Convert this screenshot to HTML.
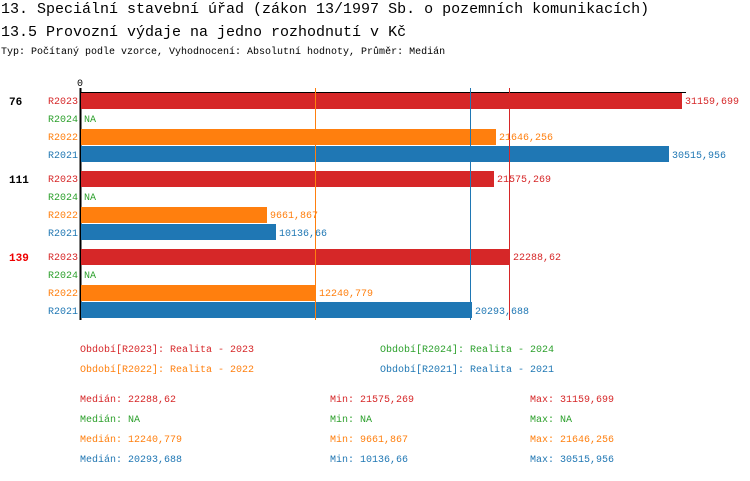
<!DOCTYPE html>
<html><head><meta charset="utf-8"><style>
body{margin:0;background:#fff}
svg text{font-family:"Liberation Mono","DejaVu Sans Mono",monospace}
</style></head><body>
<svg width="750" height="476" xmlns="http://www.w3.org/2000/svg">
<text x="1" y="13" font-size="15">13. Speciální stavební úřad (zákon 13/1997 Sb. o pozemních komunikacích)</text>
<text x="1" y="36" font-size="15">13.5 Provozní výdaje na jedno rozhodnutí v Kč</text>
<text x="1" y="54" font-size="10">Typ: Počítaný podle vzorce, Vyhodnocení: Absolutní hodnoty, Průměr: Medián</text>
<text x="77" y="86" font-size="10">0</text>
<line x1="80" y1="92.5" x2="686" y2="92.5" stroke="#000"/>
<line x1="80.5" y1="88" x2="80.5" y2="320" stroke="#000" stroke-width="2"/>
<g font-size="10">
<rect x="81" y="93" width="601" height="16" fill="#d62728"/>
<rect x="81" y="129" width="415" height="16" fill="#ff7f0e"/>
<rect x="81" y="146" width="588" height="16" fill="#1f77b4"/>
<rect x="81" y="171" width="413" height="16" fill="#d62728"/>
<rect x="81" y="207" width="186" height="16" fill="#ff7f0e"/>
<rect x="81" y="224" width="195" height="16" fill="#1f77b4"/>
<rect x="81" y="249" width="429" height="16" fill="#d62728"/>
<rect x="81" y="285" width="235" height="16" fill="#ff7f0e"/>
<rect x="81" y="302" width="391" height="16" fill="#1f77b4"/>
<line x1="315.5" y1="88" x2="315.5" y2="320" stroke="#ff7f0e"/>
<line x1="470.5" y1="88" x2="470.5" y2="320" stroke="#1f77b4"/>
<line x1="509.5" y1="88" x2="509.5" y2="320" stroke="#d62728"/>

<text x="9" y="105" font-size="11" font-weight="bold">76</text>
<text x="9" y="183" font-size="11" font-weight="bold">111</text>
<text x="9" y="261" font-size="11" font-weight="bold" fill="#e00">139</text>

<g text-anchor="end">
<text x="78" y="104" fill="#d62728">R2023</text><text x="78" y="122" fill="#2ca02c">R2024</text><text x="78" y="140" fill="#ff7f0e">R2022</text><text x="78" y="158" fill="#1f77b4">R2021</text>
<text x="78" y="182" fill="#d62728">R2023</text><text x="78" y="200" fill="#2ca02c">R2024</text><text x="78" y="218" fill="#ff7f0e">R2022</text><text x="78" y="236" fill="#1f77b4">R2021</text>
<text x="78" y="260" fill="#d62728">R2023</text><text x="78" y="278" fill="#2ca02c">R2024</text><text x="78" y="296" fill="#ff7f0e">R2022</text><text x="78" y="314" fill="#1f77b4">R2021</text>
</g>
<text x="685" y="104" fill="#d62728">31159,699</text>
<text x="84" y="122" fill="#2ca02c">NA</text>
<text x="499" y="140" fill="#ff7f0e">21646,256</text>
<text x="672" y="158" fill="#1f77b4">30515,956</text>
<text x="497" y="182" fill="#d62728">21575,269</text>
<text x="84" y="200" fill="#2ca02c">NA</text>
<text x="270" y="218" fill="#ff7f0e">9661,867</text>
<text x="279" y="236" fill="#1f77b4">10136,66</text>
<text x="513" y="260" fill="#d62728">22288,62</text>
<text x="84" y="278" fill="#2ca02c">NA</text>
<text x="319" y="296" fill="#ff7f0e">12240,779</text>
<text x="475" y="314" fill="#1f77b4">20293,688</text>

<text x="80" y="352" fill="#d62728">Období[R2023]: Realita - 2023</text>
<text x="380" y="352" fill="#2ca02c">Období[R2024]: Realita - 2024</text>
<text x="80" y="372" fill="#ff7f0e">Období[R2022]: Realita - 2022</text>
<text x="380" y="372" fill="#1f77b4">Období[R2021]: Realita - 2021</text>

<text x="80" y="402" fill="#d62728">Medián: 22288,62</text><text x="330" y="402" fill="#d62728">Min: 21575,269</text><text x="530" y="402" fill="#d62728">Max: 31159,699</text>
<text x="80" y="422" fill="#2ca02c">Medián: NA</text><text x="330" y="422" fill="#2ca02c">Min: NA</text><text x="530" y="422" fill="#2ca02c">Max: NA</text>
<text x="80" y="442" fill="#ff7f0e">Medián: 12240,779</text><text x="330" y="442" fill="#ff7f0e">Min: 9661,867</text><text x="530" y="442" fill="#ff7f0e">Max: 21646,256</text>
<text x="80" y="462" fill="#1f77b4">Medián: 20293,688</text><text x="330" y="462" fill="#1f77b4">Min: 10136,66</text><text x="530" y="462" fill="#1f77b4">Max: 30515,956</text>
</g>
</svg>
</body></html>
